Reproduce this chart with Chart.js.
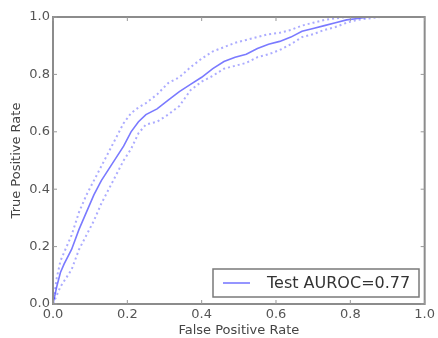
<!DOCTYPE html>
<html>
<head>
<meta charset="utf-8">
<script src="https://cdn.jsdelivr.net/npm/chart.js@4.4.1/dist/chart.umd.min.js"></script>
<style>
html,body{margin:0;padding:0;background:#fff;}
#wrap{width:438px;height:338px;}
</style>
</head>
<body>
<div id="wrap"><canvas id="c" width="438" height="338"></canvas></div>
<script>
const fpr = [0.00,0.01,0.02,0.03,0.05,0.07,0.09,0.11,0.13,0.15,0.17,0.19,0.21,0.23,0.25,0.28,0.31,0.34,0.37,0.40,0.43,0.46,0.49,0.52,0.55,0.58,0.61,0.64,0.67,0.70,0.73,0.76,0.79,0.82,0.85,0.88,0.91];
const tprMean = [0,0.06,0.11,0.14,0.19,0.26,0.32,0.38,0.43,0.47,0.51,0.55,0.60,0.635,0.66,0.68,0.71,0.74,0.765,0.79,0.82,0.845,0.86,0.87,0.89,0.905,0.915,0.93,0.95,0.96,0.97,0.98,0.99,0.995,1.0,1.0,1.0];
const tprUpper = [0,0.09,0.15,0.18,0.24,0.32,0.38,0.43,0.48,0.53,0.58,0.63,0.665,0.685,0.70,0.73,0.77,0.79,0.825,0.855,0.88,0.895,0.91,0.92,0.93,0.94,0.945,0.955,0.97,0.98,0.99,0.995,1.0,1.0,1.0,1.0,1.0];
const tprLower = [0,0.03,0.06,0.08,0.12,0.19,0.24,0.29,0.35,0.40,0.45,0.50,0.54,0.595,0.625,0.635,0.66,0.69,0.745,0.775,0.795,0.82,0.83,0.84,0.86,0.87,0.885,0.905,0.93,0.94,0.955,0.965,0.98,0.99,0.995,1.0,1.0];
const tickValues = [0.0,0.2,0.4,0.6,0.8,1.0];
const legendLabel = 'Test AUROC=0.77';
const xTitle = 'False Positive Rate';
const yTitle = 'True Positive Rate';

const pts = (xs, ys) => xs.map((x, i) => ({x: x, y: ys[i]}));
const FONT = 'DejaVu Sans';

const framePlugin = {
  id: 'frame',
  afterDatasetsDraw(chart) {
    const {ctx, chartArea: a, scales} = chart;
    ctx.save();
    ctx.strokeStyle = '#8c8c8c';
    ctx.lineWidth = 2;
    ctx.strokeRect(a.left, a.top, a.right - a.left, a.bottom - a.top);
    ctx.lineWidth = 1;
    ctx.strokeStyle = '#999';
    const tl = 4;
    tickValues.forEach(v => {
      const px = scales.x.getPixelForValue(v);
      const py = scales.y.getPixelForValue(v);
      ctx.beginPath();
      ctx.moveTo(px, a.bottom); ctx.lineTo(px, a.bottom - tl);
      ctx.moveTo(px, a.top); ctx.lineTo(px, a.top + tl);
      ctx.moveTo(a.left, py); ctx.lineTo(a.left + tl, py);
      ctx.moveTo(a.right, py); ctx.lineTo(a.right - tl, py);
      ctx.stroke();
    });
    // legend
    const bx = 213, by = 269, bw = 206, bh = 28;
    ctx.fillStyle = '#fff';
    ctx.fillRect(bx, by, bw, bh);
    ctx.strokeStyle = '#7a7a7a';
    ctx.lineWidth = 1.5;
    ctx.strokeRect(bx, by, bw, bh);
    const ds = chart.data.datasets[0];
    ctx.strokeStyle = ds.borderColor;
    ctx.lineWidth = ds.borderWidth;
    ctx.beginPath();
    ctx.moveTo(bx + 10, by + 14); ctx.lineTo(bx + 37, by + 14);
    ctx.stroke();
    ctx.fillStyle = '#333';
    ctx.font = '16px "' + FONT + '"';
    ctx.textBaseline = 'middle';
    ctx.textAlign = 'left';
    ctx.fillText(ds.label, bx + 54, by + 15);
    ctx.restore();
  }
};

new Chart(document.getElementById('c'), {
  type: 'scatter',
  data: {
    datasets: [
      {label: legendLabel, data: pts(fpr, tprMean), showLine: true, borderColor: 'rgba(50,50,255,0.65)', borderWidth: 1.6, pointRadius: 0, tension: 0},
      {label: 'upper', data: pts(fpr, tprUpper), showLine: true, borderColor: 'rgba(70,70,255,0.45)', borderWidth: 2, borderDash: [2, 3], pointRadius: 0, tension: 0},
      {label: 'lower', data: pts(fpr, tprLower), showLine: true, borderColor: 'rgba(70,70,255,0.45)', borderWidth: 2, borderDash: [2, 3], pointRadius: 0, tension: 0}
    ]
  },
  options: {
    responsive: false,
    animation: false,
    devicePixelRatio: 1,
    layout: {padding: {left: 0, top: 17, right: 13, bottom: 0}},
    plugins: {legend: {display: false}, tooltip: {enabled: false}},
    scales: {
      x: {
        type: 'linear', min: 0, max: 1,
        afterBuildTicks: s => { s.ticks = tickValues.map(v => ({value: v})); },
        afterFit: s => { s.height = 34; },
        ticks: {callback: v => Number(v).toFixed(1), font: {family: FONT, size: 13}, color: '#555', padding: 3, maxRotation: 0, autoSkip: false},
        grid: {display: false, drawTicks: false},
        border: {display: false},
        title: {display: true, text: xTitle, font: {family: FONT, size: 13}, color: '#444', padding: {top: 0, bottom: 0}}
      },
      y: {
        type: 'linear', min: 0, max: 1,
        afterBuildTicks: s => { s.ticks = tickValues.map(v => ({value: v})); },
        afterFit: s => { s.width = 53; },
        ticks: {callback: v => Number(v).toFixed(1), font: {family: FONT, size: 13}, color: '#555', padding: 3, autoSkip: false},
        grid: {display: false, drawTicks: false},
        border: {display: false},
        title: {display: true, text: yTitle, font: {family: FONT, size: 13}, color: '#444', padding: {top: 9, bottom: 0}}
      }
    }
  },
  plugins: [framePlugin]
});
</script>
</body>
</html>
